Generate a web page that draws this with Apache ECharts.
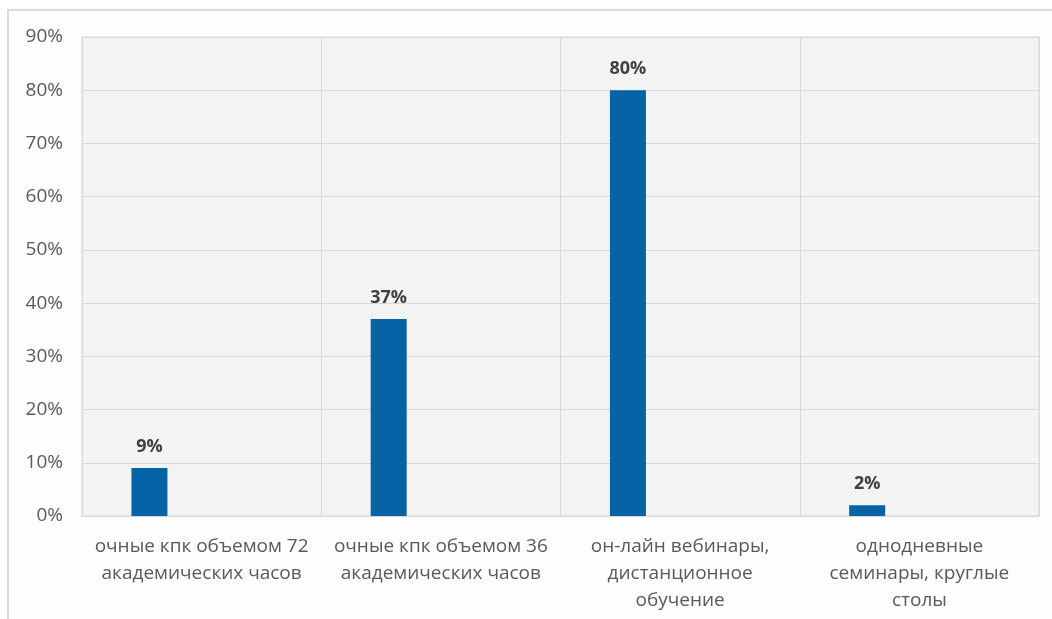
<!DOCTYPE html>
<html><head><meta charset="utf-8">
<script src="https://cdn.jsdelivr.net/npm/echarts@6/dist/echarts.min.js"></script>
<style>html,body{margin:0;padding:0;background:#fff}#c{width:1052px;height:619px}</style>
</head><body><div id="c"></div>
<script>
const categories = ['очные кпк объемом 72\nакадемических часов','очные кпк объемом 36\nакадемических часов','он-лайн вебинары,\nдистанционное\nобучение','однодневные\nсеминары, круглые\nстолы'];
const values = [9, 37, 80, 2];
const placeholder = ['-', '-', '-', '-'];
const yTicks = [0, 10, 20, 30, 40, 50, 60, 70, 80, 90];

const pc = document.createElement('canvas');
pc.width = 4; pc.height = 4;
const g = pc.getContext('2d');
g.fillStyle = '#f7f7f7'; g.fillRect(0,0,4,4);
g.fillStyle = '#e9e9e9';
g.fillRect(0,0,1,1); g.fillRect(2,2,1,1); g.fillRect(1,3,1,1); g.fillRect(3,1,1,1);

const chart = echarts.init(document.getElementById('c'), null, {renderer:'canvas'});
const font = '"Open Sans", "Noto Sans", sans-serif';
chart.setOption({
  animation: false,
  backgroundColor: '#ffffff',
  graphic: [{type:'rect', left:7, top:9, shape:{width:1100, height:700}, style:{fill:'#fdfdfd', stroke:'#d9d9d9', lineWidth:2}, z:-10}],
  grid: {left:82, right:13, top:37, bottom:103, show:true, backgroundColor:{image:pc, repeat:'repeat'}, borderColor:'#d9d9d9', borderWidth:1},
  xAxis: {
    type:'category', data:categories,
    axisLine:{show:true, lineStyle:{color:'#d9d9d9'}},
    axisTick:{show:false},
    splitLine:{show:true, lineStyle:{color:'#d9d9d9'}},
    axisLabel:{color:'#595959', fontFamily:font, fontSize:19, lineHeight:27, margin:17, interval:0}
  },
  yAxis: {
    type:'value', min:yTicks[0], max:yTicks[yTicks.length-1], interval:10,
    axisLine:{show:false}, axisTick:{show:false},
    splitLine:{show:true, lineStyle:{color:'#d9d9d9'}},
    axisLabel:{color:'#595959', fontFamily:font, fontSize:19, margin:19, formatter: v => v + '%'}
  },
  series: [
    {type:'bar', data:values, barWidth:36, barGap:'190%', itemStyle:{color:'#0563a6'},
     label:{show:true, position:'top', distance:12, formatter: p => p.value + '%', color:'#404040', fontFamily:font, fontWeight:'bold', fontSize:18}},
    {type:'bar', data:placeholder, barWidth:36}
  ]
});
</script></body></html>
